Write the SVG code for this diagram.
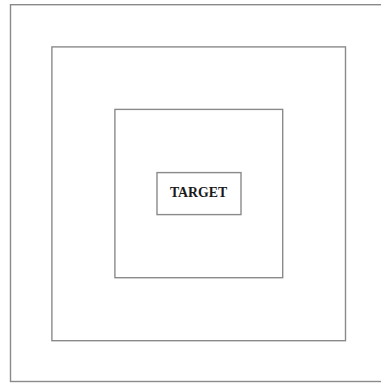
<svg xmlns="http://www.w3.org/2000/svg" width="381" height="383" viewBox="0 0 381 383">
<style>
.box{fill:none;stroke:#8a8a8a;stroke-width:1.4}
.lbl{font-family:"Liberation Serif",serif;font-weight:bold;font-size:13.8px;fill:#1a1a1a}
</style>
<rect width="381" height="383" fill="#fff"/>
<g id="outer"><rect class="box" x="10.5" y="4.7" width="380" height="376.8"/></g>
<g id="middle"><rect class="box" x="51.9" y="46.9" width="293.6" height="293.8"/></g>
<g id="inner"><rect class="box" x="114.9" y="109.4" width="167.8" height="168.3"/></g>
<g id="target"><rect class="box" x="157" y="172.6" width="84" height="42"/>
<text class="lbl" x="198.5" y="197.3" text-anchor="middle">TARGET</text></g>
<g id="connectors"></g>
</svg>
